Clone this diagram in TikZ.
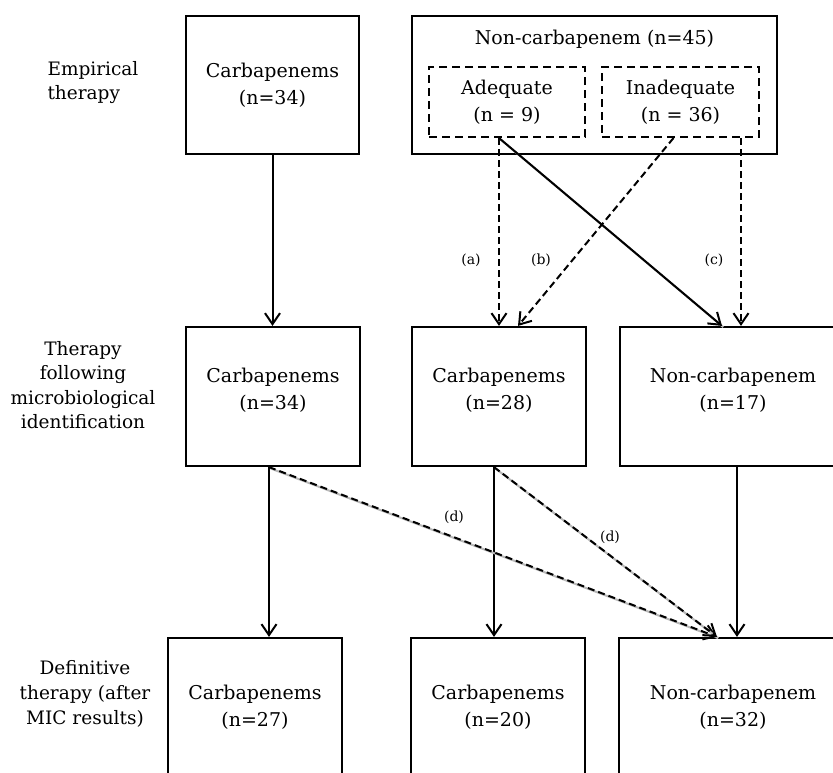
\documentclass[tikz,border=0pt]{standalone}
\usepackage{fontspec}
\setmainfont{DejaVu Serif}
\usetikzlibrary{arrows.meta,calc}
\begin{document}
\begin{tikzpicture}[x=1pt,y=-1pt,
  box/.style={draw,line width=2.2pt,rectangle,inner sep=0pt,align=center,
    minimum width=174pt,minimum height=139pt,font=\fontsize{19}{27}\selectfont},
  raised/.style={text depth=14.5pt},
  dbox/.style={draw,line width=2pt,dash pattern=on 8pt off 5pt,rectangle,inner sep=0pt,
    align=center,minimum height=70pt,font=\fontsize{19}{27}\selectfont},
  lab/.style={align=center,font=\fontsize{18.5}{24.6}\selectfont},
  small/.style={font=\fontsize{14}{16}\selectfont},
  arr/.style={line width=2pt,-{Straight Barb[length=11pt,width=15pt,line width=2pt]}},
  darr/.style={arr,dash pattern=on 7pt off 4pt},
  shadowed/.style={preaction={draw=gray!55,line width=2pt,-,transform canvas={shift={(1.2pt,-1.2pt)}}}}]
\useasboundingbox (0,0) rectangle (833,772);
\fill[white] (0,0) rectangle (833,772);
\begin{scope}
\clip (0,0) rectangle (833,772);
% side labels
\node[lab,anchor=west,align=left] (l1) at (44,82.5) {Empirical\\therapy};
\node[lab] (l2) at (83,385) {Therapy\\following\\microbiological\\identification};
\node[lab] (l3) at (85,694) {Definitive\\therapy (after\\MIC results)};
% top row
\node[box,minimum width=173pt,minimum height=138pt] (tl) at (272.5,85) {Carbapenems\\(n=34)};
\node[box,minimum width=365pt,minimum height=138pt] (tr) at (594.5,85) {};
\node[font=\fontsize{19}{27}\selectfont] (trt) at (594.5,39) {Non-carbapenem (n=45)};
\node[dbox,minimum width=156pt] (adq) at (507,102) {Adequate\\(n = 9)};
\node[dbox,minimum width=157pt] (inadq) at (680.5,102) {Inadequate\\(n = 36)};
% middle row
\node[box,raised] (ml) at (273,396.5) {Carbapenems\\(n=34)};
\node[box,raised] (mc) at (499,396.5) {Carbapenems\\(n=28)};
\node[box,raised,minimum width=226pt] (mr) at (733,396.5) {Non-carbapenem\\(n=17)};
% bottom row
\node[box] (bl) at (255,707.5) {Carbapenems\\(n=27)};
\node[box] (bc) at (498,707.5) {Carbapenems\\(n=20)};
\node[box,minimum width=228pt] (br) at (733,707.5) {Non-carbapenem\\(n=32)};
% top -> middle connectors
\draw[arr] (tl) -- (tl |- ml.north);
\draw[darr] (adq.south -| mc.north) -- (mc.north);
\draw[arr,shadowed] (adq.south -| mc.north) -- ($(mr.north)+(-11,0)$);
\draw[darr] ($(inadq.south)+(-7,0)$) -- ($(mc.north)+(19,0)$);
\draw[darr] ($(inadq.south)+(60.5,0)$) -- ($(mr.north)+(8,0)$);
\node[small] (la) at (471,260) {(a)};
\node[small] (lb) at (541,260) {(b)};
\node[small] (lc) at (714,260) {(c)};
% middle -> bottom connectors
\coordinate (mlS) at ($(ml.south)+(-4,0)$);
\coordinate (mcS) at ($(mc.south)+(-5,0)$);
\coordinate (mrS) at ($(mr.south)+(4,0)$);
\coordinate (brT) at ($(br.north)+(-16,0)$);
\draw[arr] (mlS) -- (mlS |- bl.north);
\draw[arr] (mcS) -- (mcS |- bc.north);
\draw[arr] (mrS) -- (mrS |- br.north);
\draw[darr,shadowed] (mlS) -- (brT);
\draw[darr,shadowed] (mcS) -- (brT);
\node[small] (ld1) at (454,517) {(d)};
\node[small] (ld2) at (610,537) {(d)};
\end{scope}
\end{tikzpicture}
\end{document}
